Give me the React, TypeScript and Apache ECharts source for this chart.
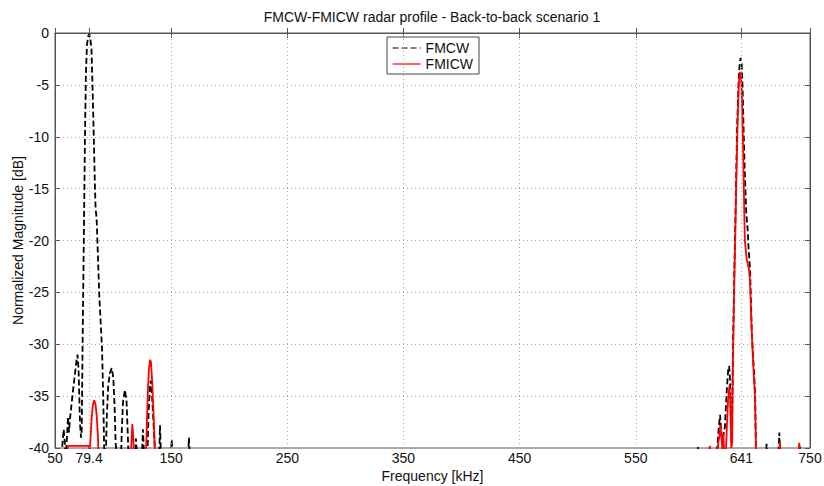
import React, { useEffect, useRef } from 'react';
import * as echarts from 'echarts';

// FMCW (black dashed) profile: frequency [kHz] and normalized magnitude [dB]
const fmcwFreq = [
  50, 55.5, 56.5, 57.5, 58.5, 59.2, 60.3, 61.2, 62, 62.9, 64.5, 66.5, 68.5, 69.4, 70.3, 71.5, 72.4, 73.0,
  73.8, 74.8, 75.8, 76.6, 77.5, 78.6, 79.4, 80.3, 81.4, 82.5, 83.5, 84.4, 85.0, 85.8, 86.8, 88.2, 89.6,
  90.5, 91.5, 92.4, 93.8, 94.6, 95.8, 97.2, 98.8, 100.2, 101.3, 102.2, 103.3, 106.8, 107.6, 108.6, 110.2,
  111.6, 112.6, 113.4, 118.8, 119.7, 120.6, 124.8, 125.7, 126.6, 129.5, 130.6, 131.8, 132.6, 133.6, 135,
  136.3, 139.6, 140.4, 141.3, 149.8, 150.5, 151.3, 164.6, 165.3, 166.1,
  600, 603, 603.5, 604, 619.5, 620.5, 621.5, 622.6, 623.6, 624.6, 625.8, 626.7, 627.6, 628.6, 629.6, 630.4,
  631.2, 631.9, 632.6, 633.2, 633.9, 634.7, 635.4, 636.4, 637.3, 638.4, 639.4, 640.3, 641.2, 642, 643, 644,
  645.2, 646.4, 647, 647.8, 648.4, 649.2, 649.8, 650.9, 652.2, 652.8, 653.4, 654.5, 662, 662.6, 663.2,
  672.8, 673.6, 674.4, 690.6, 691.2, 691.8, 700,
];
const fmcwMag = [
  -41, -41, -39.5, -38.2, -39.6, -41, -39, -37, -38.5, -37.2, -35.5, -33.5, -31.6, -31.0, -32.5, -37.6, -39.0, -38.3,
  -29.6, -20, -10, -4, -1.2, -0.3, -0.1, -0.4, -1.5, -6, -10.5, -15, -17, -17.8, -21, -25.5, -28.5,
  -30.5, -35, -40.5, -40.5, -37, -34, -32.8, -32.3, -33.2, -36, -39.5, -41, -41, -38, -35.5, -34.4,
  -35.5, -38.5, -41, -41, -39.1, -41, -41, -38.2, -40.5, -41, -36.5, -34, -33.5, -35, -38,
  -41, -41, -37.8, -41, -41, -39.2, -41, -41, -39, -41,
  -41, -41, -39.9, -41, -41, -39.5, -38, -36.8, -38.5, -39.6, -38.5, -38, -36, -34, -32.4, -32.1,
  -33.5, -38, -39.5, -35, -28.8, -24, -20, -14, -9, -5, -3, -2.4, -3, -5.5, -10, -14,
  -17.5, -19, -20.6, -21.8, -22.8, -26, -28.6, -30.9, -33.5, -35, -40.5, -41, -41, -39.6, -41,
  -41, -38.5, -41, -41, -39.8, -41, -41,
];

// FMICW (red solid) profile
const fmicwFreq = [
  50, 60.4, 61, 79.0, 79.8, 80.6, 81.6, 82.7, 83.8, 84.9, 86.0, 87.0, 87.6, 115, 115.8, 116.6, 117.4, 118.2,
  128.2, 129, 129.8, 130.8, 131.8, 132.6, 133.6, 134.6, 135.6, 136.4,
  612, 613.8, 614.6, 620.4, 621, 621.8, 622.8, 623.8, 624.6, 625.3, 626.2, 627.4, 628.4, 629.4, 630.6, 631.4,
  632.2, 633.0, 633.6, 634.1, 635.0, 635.6, 636.6, 637.6, 638.6, 639.5, 640.4, 641.2, 642.2, 643.2, 643.9,
  645.5, 647.5, 648.4, 649.4, 650.5, 651.6, 652.6, 653.2, 653.6, 655, 673.4, 674.1, 674.8, 690, 690.7, 691.4, 700,
];
const fmicwMag = [
  -41, -41, -39.8, -39.8, -40.5, -39, -37, -35.8, -35.4, -35.8, -37, -39, -41, -41, -39.5, -37.7, -39, -41,
  -41, -38, -35, -32.5, -31.5, -31.7, -33.5, -36, -39, -41,
  -41, -39.8, -41, -41, -39.5, -39, -37.8, -39, -40.3, -38.6, -40.5, -41, -38, -35.5, -34, -35.5,
  -40, -39.5, -32, -28.8, -23, -20, -14, -9, -5.2, -3.8, -3.9, -5.5, -10, -16, -20,
  -21.8, -22.8, -24, -27.5, -30.5, -33, -35, -38, -40.5, -41, -41, -39.4, -41, -41, -39.5, -41, -41,
];

// Tick positions on the frequency axis and the labels printed under them
// (the reference prints "750" at the right end of its axis)
const xTickValues = [50, 79.4, 150, 250, 350, 450, 550, 641, 700];
const xTickLabels = ['50', '79.4', '150', '250', '350', '450', '550', '641', '750'];
const xGridValues = [79.4, 150, 250, 350, 450, 550, 641];

const FONT = '"Liberation Sans", Arial, Helvetica, sans-serif';

function pair(xs: number[], ys: number[]) {
  return xs.map((x, i) => [x, ys[i]]);
}

function labelFor(v: number) {
  let best = -1;
  let bd = Infinity;
  xTickValues.forEach((t, i) => {
    const d = Math.abs(t - v);
    if (d < bd) { bd = d; best = i; }
  });
  return bd < 0.01 ? xTickLabels[best] : '';
}

export default function App() {
  const ref = useRef<HTMLDivElement>(null);
  useEffect(() => {
    if (!ref.current) return;
    const chart = echarts.init(ref.current, null, { renderer: 'svg' });
    const axisColor = '#555';
    const gridLine = { show: true, lineStyle: { color: '#a8a8a8', type: [1, 3] as any, width: 1 } };
    chart.setOption({
      animation: false,
      backgroundColor: '#fff',
      textStyle: { fontFamily: FONT },
      title: {
        text: 'FMCW-FMICW radar profile - Back-to-back scenario 1',
        left: 432,
        textAlign: 'center',
        top: 10,
        padding: 0,
        textStyle: { fontSize: 14, fontWeight: 'normal', color: '#111', fontFamily: FONT },
      },
      legend: {
        orient: 'vertical',
        left: 387,
        top: 37,
        padding: [4, 6, 3, 5],
        itemWidth: 28,
        itemHeight: 12,
        itemGap: 2,
        backgroundColor: '#fff',
        borderColor: '#444',
        borderWidth: 1,
        borderRadius: 0,
        itemStyle: { opacity: 0, borderWidth: 0 },
        lineStyle: { width: 1.2 },
        textStyle: { fontSize: 14, color: '#111', fontFamily: FONT },
        data: ['FMCW', 'FMICW'],
      },
      grid: {
        left: 55, right: 14, top: 33, bottom: 38,
        show: true, borderColor: axisColor, borderWidth: 1,
        outerBoundsMode: 'none',
      },
      xAxis: [
        {
          type: 'value', min: 50, max: 700, position: 'bottom',
          name: 'Frequency [kHz]', nameLocation: 'middle', nameGap: 21, nameMoveOverlap: false,
          nameTextStyle: { fontSize: 14, color: '#111', fontFamily: FONT },
          axisLine: { show: true, lineStyle: { color: axisColor } },
          axisTick: { show: true, inside: true, length: 5, customValues: xTickValues, lineStyle: { color: axisColor } },
          axisLabel: { customValues: xTickValues, formatter: (v: number) => labelFor(v), fontSize: 14, color: '#111', margin: 3, fontFamily: FONT, showMinLabel: true, showMaxLabel: true },
          splitLine: { show: false },
        },
        {
          type: 'value', min: 50, max: 700, position: 'top',
          axisLine: { show: true, lineStyle: { color: axisColor } },
          axisTick: { show: true, inside: true, length: 5, customValues: xTickValues, lineStyle: { color: axisColor } },
          axisLabel: { show: false },
          splitLine: { show: false },
        },
      ],
      yAxis: [
        {
          type: 'value', min: -40, max: 0, interval: 5, position: 'left',
          name: 'Normalized Magnitude [dB]', nameLocation: 'middle', nameGap: 30, nameRotate: 90, nameMoveOverlap: false,
          nameTextStyle: { fontSize: 14, color: '#111', fontFamily: FONT },
          axisLine: { show: true, lineStyle: { color: axisColor } },
          axisTick: { show: true, inside: true, length: 5, lineStyle: { color: axisColor } },
          axisLabel: { fontSize: 14, color: '#111', margin: 6, fontFamily: FONT },
          splitLine: gridLine,
        },
        {
          type: 'value', min: -40, max: 0, interval: 5, position: 'right',
          axisLine: { show: true, lineStyle: { color: axisColor } },
          axisTick: { show: true, inside: true, length: 5, lineStyle: { color: axisColor } },
          axisLabel: { show: false },
          splitLine: { show: false },
        },
      ],
      series: [
        {
          name: 'grid', type: 'line', data: [], z: 0, silent: true,
          markLine: {
            silent: true, symbol: 'none', label: { show: false },
            lineStyle: { color: '#a8a8a8', type: [1, 3], width: 1 },
            data: xGridValues.map((v) => ({ xAxis: v })),
          },
        },
        {
          name: 'FMCW', type: 'line', data: pair(fmcwFreq, fmcwMag), showSymbol: false, symbol: 'none',
          clip: true, z: 2,
          lineStyle: { color: '#000', width: 1.8, type: [6, 3] },
          itemStyle: { color: '#000' },
        },
        {
          name: 'FMICW', type: 'line', data: pair(fmicwFreq, fmicwMag), showSymbol: false, symbol: 'none',
          clip: true, z: 3,
          lineStyle: { color: '#ff0000', width: 1.8 },
          itemStyle: { color: '#ff0000' },
        },
      ],
    });
    return () => chart.dispose();
  }, []);
  return <div ref={ref} style={{ position: 'fixed', left: 0, top: 0, width: 824, height: 486 }} />;
}
